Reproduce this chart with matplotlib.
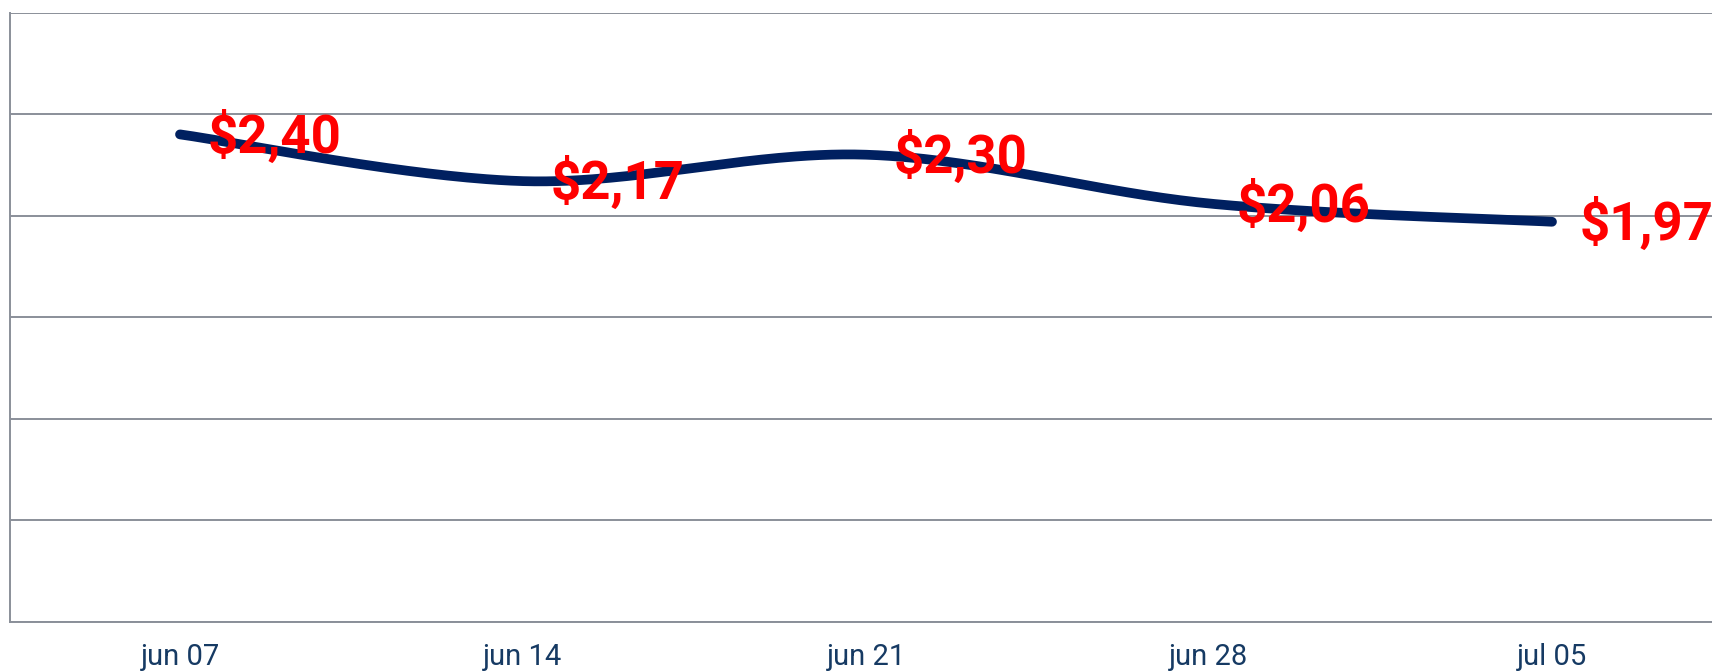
import numpy as np
import matplotlib
matplotlib.use("Agg")
import matplotlib.pyplot as plt

dates = ["jun 07", "jun 14", "jun 21", "jun 28", "jul 05"]
prices = [2.40, 2.17, 2.30, 2.06, 1.97]
price_labels = ["$2,40", "$2,17", "$2,30", "$2,06", "$1,97"]

W, H = 1712, 671
fig = plt.figure(figsize=(W / 100, H / 100), dpi=100)
left_px, top_px, bottom_px = 10, 12.5, 622
x0_px, step_px = 180, 343
xmin = -(x0_px - left_px) / step_px
xmax = 4.5
right_px = x0_px + xmax * step_px
ax = fig.add_axes([left_px / W, (H - bottom_px) / H, (right_px - left_px) / W, (bottom_px - top_px) / H])

# Catmull-Rom smoothing (like Excel smoothed line)
x = np.arange(len(prices), dtype=float)
y = np.array(prices)
px = np.concatenate([[x[0]], x, [x[-1]]])
py = np.concatenate([[y[0]], y, [y[-1]]])
sx, sy = [], []
t = np.linspace(0, 1, 60)
for i in range(1, len(px) - 2):
    p0x, p1x, p2x, p3x = px[i - 1], px[i], px[i + 1], px[i + 2]
    p0y, p1y, p2y, p3y = py[i - 1], py[i], py[i + 1], py[i + 2]
    c1x, c1y = p1x + (p2x - p0x) / 6, p1y + (p2y - p0y) / 6
    c2x, c2y = p2x - (p3x - p1x) / 6, p2y - (p3y - p1y) / 6
    bx = (1 - t) ** 3 * p1x + 3 * (1 - t) ** 2 * t * c1x + 3 * (1 - t) * t ** 2 * c2x + t ** 3 * p2x
    by = (1 - t) ** 3 * p1y + 3 * (1 - t) ** 2 * t * c1y + 3 * (1 - t) * t ** 2 * c2y + t ** 3 * p2y
    sx.extend(bx); sy.extend(by)

ax.plot(sx, sy, color="#002060", lw=7, solid_capstyle="round", zorder=3)

for xi, yi, lab in zip(x, y, price_labels):
    ax.annotate(lab, (xi, yi), xytext=(20, -1.5), textcoords="offset points",
                ha="left", va="center", color="#ff0000", fontsize=38,
                fontweight="bold", family=["Roboto", "DejaVu Sans"], zorder=4,
                annotation_clip=False)

ax.set_xlim(xmin, xmax)
ax.set_ylim(0, 3)
ax.set_yticks(np.arange(0, 3.01, 0.5))
ax.set_yticklabels([])
ax.grid(axis="y", color="#8a8f99", lw=1.4)
ax.set_axisbelow(True)
ax.set_xticks(x)
ax.set_xticklabels(dates, fontsize=21, color="#163a63", family=["Roboto", "DejaVu Sans"], fontweight="normal")
ax.tick_params(axis="both", length=0)
ax.tick_params(axis="x", pad=15)
for s in ["top", "right"]:
    ax.spines[s].set_visible(False)
for s in ["left", "bottom"]:
    ax.spines[s].set_color("#8a8f99")
    ax.spines[s].set_linewidth(1.4)

fig.savefig("out.png", dpi=100)
